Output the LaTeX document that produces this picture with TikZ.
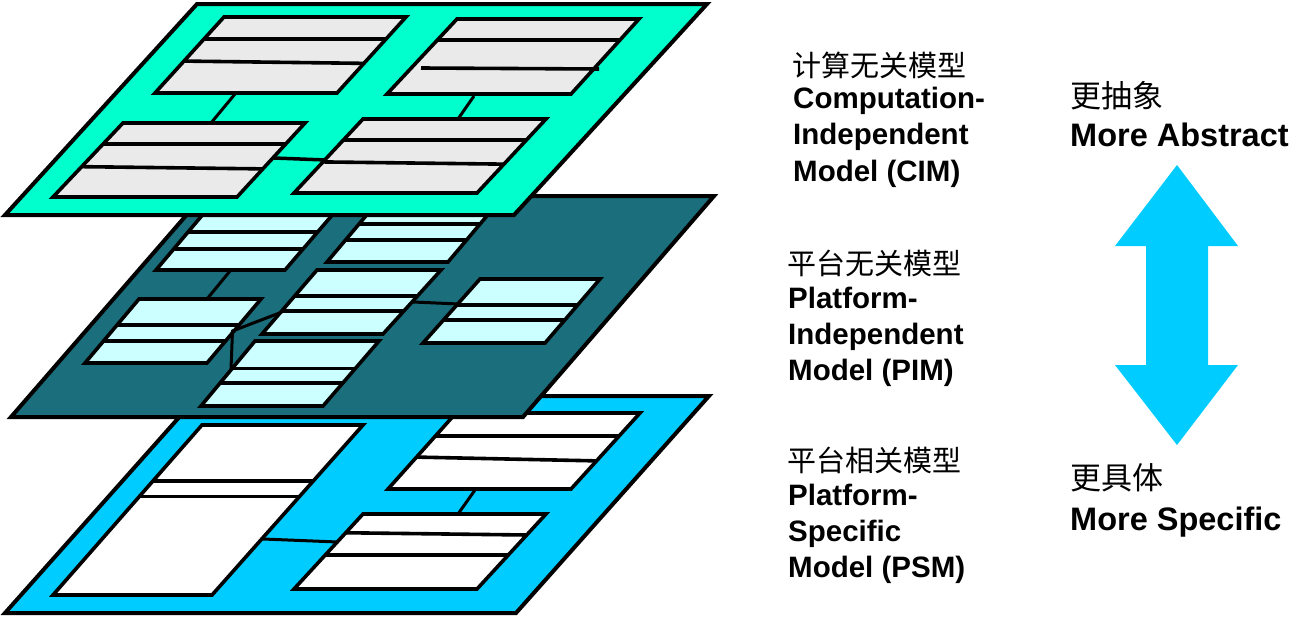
\documentclass[tikz,border=0pt]{standalone}
\usepackage{fontspec}
\setmainfont{Liberation Sans}
\newfontfamily\cjk{Noto Sans CJK SC}
\usetikzlibrary{calc}
\definecolor{cimfill}{RGB}{0,255,204}
\definecolor{cimbox}{RGB}{234,234,234}
\definecolor{pimfill}{RGB}{27,110,124}
\definecolor{pimbox}{RGB}{204,255,255}
\definecolor{psmfill}{RGB}{0,204,255}
\newcommand\slbox[6]{%
  \draw[pbox,fill=#1] #2 -- #3 -- #4 -- #5 -- cycle;
  \foreach \fa/\fb in {#6} {\draw[pbox] ($#2!\fa!#5$) -- ($#3!\fb!#4$);}
}
\begin{document}
\begin{tikzpicture}[x=1pt,y=-1pt,line join=miter,
  layerpoly/.style={draw=black,line width=4pt},
  pbox/.style={draw=black,line width=3.6pt},
  link/.style={draw=black,line width=3pt},
  cjklab/.style={anchor=base west,inner sep=0pt,font=\cjk\fontsize{29}{29}\selectfont},
  enlab/.style={anchor=base west,inner sep=0pt,font=\bfseries\fontsize{29.5}{29.5}\selectfont},
  cjkbig/.style={anchor=base west,inner sep=0pt,font=\cjk\fontsize{31}{31}\selectfont},
  enbig/.style={anchor=base west,inner sep=0pt,font=\bfseries\fontsize{32.5}{32.5}\selectfont}]
\useasboundingbox (0,0) rectangle (1316,616);

% ---------- bottom layer (PSM) ----------
\draw[layerpoly,fill=psmfill] (198,396) -- (709,396) -- (516,613) -- (5,613) -- cycle;
\slbox{white}{(202,425)}{(363,425)}{(212,595)}{(53,595)}{0.33/0.33,0.42/0.42}
\slbox{white}{(456,413)}{(640,413)}{(571,489)}{(388,489)}{0.30/0.30,0.58/0.63}
\slbox{white}{(363,514)}{(546,514)}{(477,589)}{(294,589)}{0.25/0.28,0.55/0.55}
\coordinate (pa1) at (475,490); \coordinate (pa2) at (458,514);
\coordinate (pb1) at (263,539); \coordinate (pb2) at (338,542);
\draw[link] (pa1) -- (pa2);
\draw[link] (pb1) -- (pb2);

% ---------- middle layer (PIM) ----------
\draw[layerpoly,fill=pimfill] (203,196) -- (714,196) -- (523,417) -- (11,417) -- cycle;
\slbox{pimbox}{(210,206)}{(340,206)}{(285,270)}{(156,270)}{0.41/0.41,0.67/0.67}
\slbox{pimbox}{(381,198)}{(502,198)}{(448,262)}{(327,262)}{0.41/0.41,0.66/0.66}
\slbox{pimbox}{(317,270)}{(441,270)}{(383,334)}{(262,334)}{0.41/0.41,0.64/0.64}
\slbox{pimbox}{(139,299)}{(261,299)}{(207,363)}{(85,363)}{0.41/0.41,0.66/0.66}
\slbox{pimbox}{(255,341)}{(379,341)}{(323,406)}{(201,406)}{0.42/0.42,0.65/0.65}
\slbox{pimbox}{(480,279)}{(600,279)}{(545,343)}{(423,343)}{0.41/0.41,0.64/0.64}
\coordinate (ma1) at (230,271); \coordinate (ma2) at (207,299);
\coordinate (mb1) at (413,302); \coordinate (mb2) at (459,304);
\coordinate (mj) at (232.5,331); \coordinate (mc2) at (282,312); \coordinate (md2) at (231,369);
\draw[link] (ma1) -- (ma2);
\draw[link] (mb1) -- (mb2);
\draw[link] (mc2) -- (mj) -- (md2);

% ---------- top layer (CIM) ----------
\draw[layerpoly,fill=cimfill] (197,4) -- (707,4) -- (514,215) -- (5,215) -- cycle;
\slbox{cimbox}{(224,17)}{(406,17)}{(337,93)}{(155,93)}{0.29/0.29,0.58/0.61}
\slbox{cimbox}{(457,19)}{(639,19)}{(571,94)}{(387,94)}{0.28/0.28}
\draw[pbox] (421,68) -- (599,69);
\slbox{cimbox}{(123,123)}{(305,123)}{(237,197)}{(53,197)}{0.28/0.28,0.59/0.62}
\slbox{cimbox}{(363,119)}{(546,119)}{(477,193)}{(294,193)}{0.28/0.28,0.58/0.61}
\coordinate (ca1) at (235,94); \coordinate (ca2) at (211,123);
\coordinate (cb1) at (474,96); \coordinate (cb2) at (458,119);
\coordinate (cc1) at (274,158); \coordinate (cc2) at (326,160);
\draw[link] (ca1) -- (ca2);
\draw[link] (cb1) -- (cb2);
\draw[link,line width=3.5pt] (cc1) -- (cc2);

% ---------- labels ----------
\node[cjklab] (cimzh) at (792,76) {计算无关模型};
\node[enlab] (cim1) at (793,108) {Computation-};
\node[enlab] (cim2) at (793,144) {Independent};
\node[enlab] (cim3) at (793,181) {Model (CIM)};

\node[cjklab] (pimzh) at (787,274) {平台无关模型};
\node[enlab] (pim1) at (788,308) {Platform-};
\node[enlab] (pim2) at (788,344) {Independent};
\node[enlab] (pim3) at (788,380) {Model (PIM)};

\node[cjklab] (psmzh) at (787,471) {平台相关模型};
\node[enlab] (psm1) at (788,505) {Platform-};
\node[enlab] (psm2) at (788,541) {Specific};
\node[enlab] (psm3) at (788,577) {Model (PSM)};

\node[cjkbig] (abszh) at (1070,107) {更抽象};
\node[enbig] (abs) at (1070,146) {More Abstract};
\node[cjkbig] (spczh) at (1070,489) {更具体};
\node[enbig] (spc) at (1070,530) {More Specific};

% ---------- double arrow ----------
\fill[psmfill] (1177,165) -- (1238,246) -- (1208,246) -- (1208,365) -- (1238,365)
  -- (1177,445) -- (1115,365) -- (1146,365) -- (1146,246) -- (1115,246) -- cycle;
\end{tikzpicture}
\end{document}
